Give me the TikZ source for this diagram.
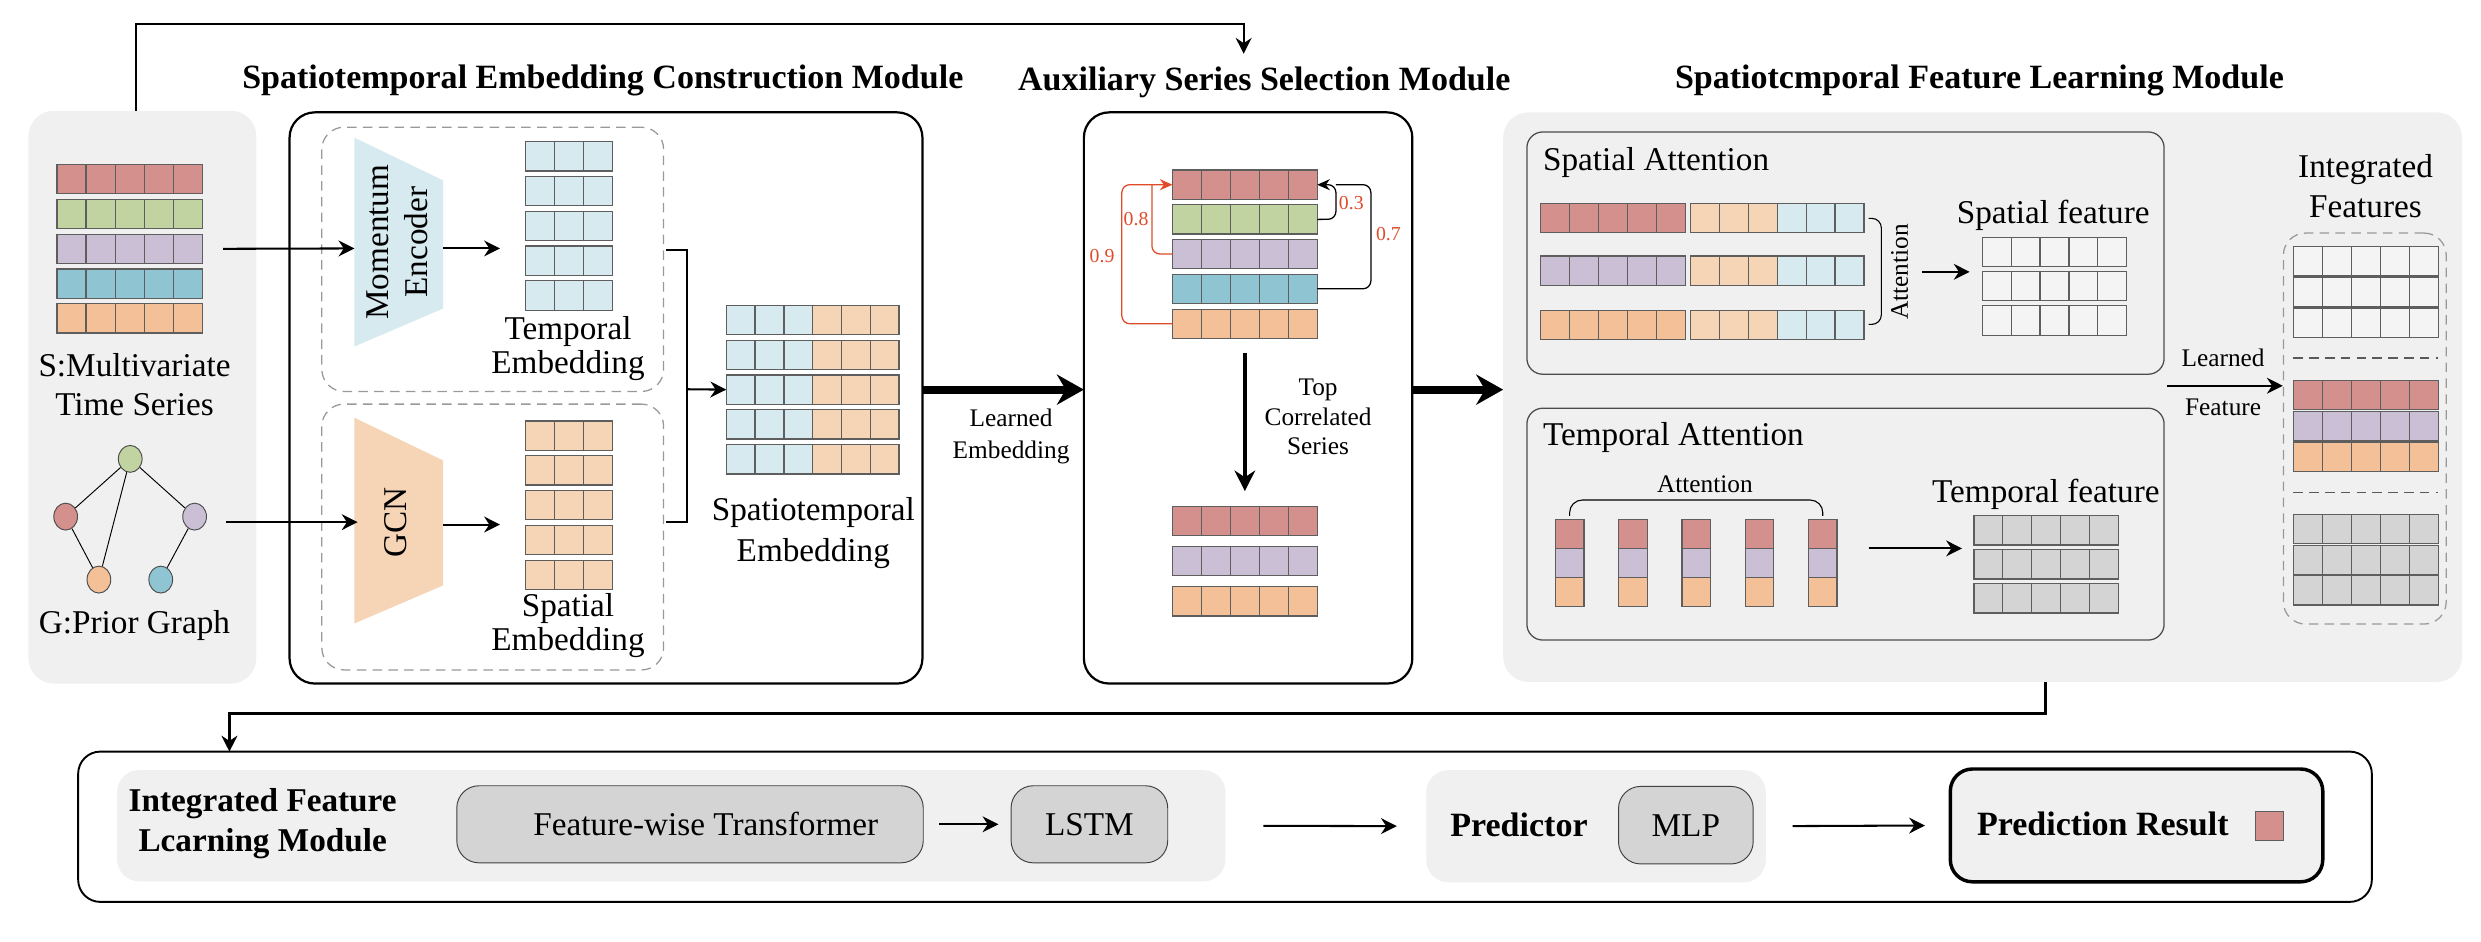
\documentclass[tikz,border=0pt]{standalone}
\usepackage{fontspec}
\setmainfont{Liberation Serif}
\usetikzlibrary{positioning,shapes.geometric,arrows.meta}

\definecolor{sred}{HTML}{D3908C}
\definecolor{sgreen}{HTML}{C1D3A1}
\definecolor{spurple}{HTML}{CBBFD6}
\definecolor{steal}{HTML}{8FC5D2}
\definecolor{sorange}{HTML}{F3C097}
\definecolor{lblue}{HTML}{D7EAF0}
\definecolor{lorange}{HTML}{F6D5B7}
\definecolor{panelgray}{HTML}{EFF0EF}
\definecolor{boxgray}{HTML}{D4D4D4}
\definecolor{fwhite}{HTML}{F4F4F4}
\definecolor{numred}{HTML}{E04B2A}
\definecolor{cellgray}{HTML}{5E5E5E}

\tikzset{
  cell/.style={draw=cellgray, line width=0.8pt, inner sep=0pt, outer sep=0pt, minimum height=18.5pt, anchor=north west},
  cellline/.style={draw=cellgray, line width=0.8pt},
  panel/.style={fill=panelgray, rounded corners=16pt, anchor=north west, inner sep=0pt, outer sep=0pt},
  module/.style={draw=black, line width=1.4pt, fill=white, rounded corners=16pt, anchor=north west, inner sep=0pt, outer sep=0pt},
  dashbox/.style={draw=gray!80, dash pattern=on 6pt off 4pt, line width=0.8pt, rounded corners=14pt, anchor=north west, inner sep=0pt},
  attbox/.style={draw=gray!60!black, line width=0.8pt, rounded corners=10pt, anchor=north west, inner sep=0pt, outer sep=0pt},
  gbox/.style={fill=boxgray, draw=gray!50!black, line width=0.6pt, rounded corners=14pt, anchor=north west, inner sep=0pt, outer sep=0pt, font=\fontsize{21}{25}\selectfont},
  gnode/.style={ellipse, draw=gray!60!black, line width=0.6pt, minimum width=15pt, minimum height=17pt, inner sep=0pt},
  gedge/.style={draw=black, line width=0.6pt},
  lbl/.style={font=\fontsize{21}{25}\selectfont, align=center, inner sep=0pt},
  lbltight/.style={font=\fontsize{21}{21.5}\selectfont, align=center, inner sep=0pt},
  ttl/.style={font=\bfseries\fontsize{21.5}{25}\selectfont, align=center, inner sep=0pt},
  small/.style={font=\fontsize{16}{19}\selectfont, align=center, inner sep=0pt},
  num/.style={font=\fontsize{12.5}{14}\selectfont, text=numred, inner sep=0pt},
  arr/.style={-{Stealth[length=10pt,width=10pt]}, line width=1.3pt},
  midarr/.style={-{Stealth[length=13pt,width=13pt]}, line width=2.6pt},
  bigarr/.style={-{Stealth[length=17pt,width=19pt]}, line width=5pt},
  link/.style={line width=0.8pt, rounded corners=5pt}
}

% one row of cells: name, x, y (top left), cells, cell width, fill
\newcommand{\cellrow}[6]{%
  \node[cell, fill=#6, minimum width=#4*#5pt] (#1) at (#2,#3) {};
  \pgfmathtruncatemacro{\lastk}{#4-1}%
  \foreach \k in {1,...,\lastk}{\draw[cellline] ([xshift=\k*#5pt]#1.north west) -- ([xshift=\k*#5pt]#1.south west);}%
}

\begin{document}
\begin{tikzpicture}[x=1pt, y=-1pt]
\useasboundingbox (0,0) rectangle (1568,595);

% titles
\node[ttl] (t1) at (381,51) {Spatiotemporal Embedding Construction Module};
\node[ttl] (t2) at (799,52) {Auxiliary Series Selection Module};
\node[ttl] (t3) at (1251,51) {Spatiotcmporal Feature Learning Module};

% input panel
\node[panel, minimum width=144pt, minimum height=362pt] (lp) at (18,70) {};
\foreach \i/\y/\c in {1/104/sred,2/126/sgreen,3/148/spurple,4/170/steal,5/192/sorange}{
  \cellrow{s\i}{36}{\y}{5}{18.4}{\c}
}
\node[lbl] (slbl) at (85,243) {S:Multivariate\\Time Series};
\node[gnode, fill=sgreen] (g1) at (82.3,290) {};
\node[gnode, fill=sred] (g2) at (41.5,326.5) {};
\node[gnode, fill=spurple] (g3) at (123,326.5) {};
\node[gnode, fill=sorange] (g4) at (62.5,366.3) {};
\node[gnode, fill=steal] (g5) at (101.6,366.3) {};
\draw[gedge] (g1) -- (g2);
\draw[gedge] (g1) -- (g3);
\draw[gedge] (g1) -- (g4);
\draw[gedge] (g2) -- (g4);
\draw[gedge] (g3) -- (g5);
\node[lbl] (glbl) at (85,395) {G:Prior Graph};

% embedding construction
\node[module, minimum width=400pt, minimum height=361pt] (emb) at (183,71) {};
\node[dashbox, minimum width=216pt, minimum height=167pt] (tbox) at (203,80) {};
\node[dashbox, minimum width=216pt, minimum height=168pt] (sbox) at (203,255) {};
\fill[lblue] (224,87) -- (280,114) -- (280,195) -- (224,219) -- cycle;
\fill[lorange] (224,264) -- (280,291) -- (280,370) -- (224,394) -- cycle;
\node[lbl, rotate=90] (enc) at (251,153) {Momentum\\Encoder};
\node[lbl, rotate=90] (gcn) at (250,330) {GCN};
\coordinate (encin) at (224,157);
\coordinate (encout) at (280,157);
\coordinate (gcnin) at (226,330);
\coordinate (gcnout) at (280,331.5);
\draw[arr] ([xshift=13pt]s3.east) -- (encin);
\draw[arr] (143,330) -- (gcnin);
\foreach \i/\y in {1/89.5,2/111.5,3/133.5,4/155.5,5/177.5}{
  \cellrow{te\i}{332}{\y}{3}{18.3}{lblue}
}
\foreach \i/\y in {1/266,2/288,3/310,4/332,5/354}{
  \cellrow{se\i}{332}{\y}{3}{18.3}{lorange}
}
\draw[arr] (encout) -- (316,157);
\draw[arr] (gcnout) -- (316,331.5);
\node[lbltight] (telbl) at (359,220) {Temporal\\Embedding};
\node[lbltight] (selbl) at (359,395.5) {Spatial\\Embedding};
\draw[line width=1.2pt] (421,158) -- (434,158) -- (434,330) -- (421,330);
\foreach \i/\y in {1/193,2/215,3/237,4/259,5/281}{
  \cellrow{sta\i}{459}{\y}{3}{18.2}{lblue}
  \cellrow{stb\i}{513.6}{\y}{3}{18.2}{lorange}
}
\draw[arr] (434,246) -- (sta3.west);
\node[lbl, font=\fontsize{21}{26}\selectfont] (stlbl) at (514,337) {Spatiotemporal\\Embedding};

% auxiliary series selection
\node[module, minimum width=207.6pt, minimum height=361pt] (aux) at (685,71) {};
\draw[bigarr] (emb.east |- sta3.east) -- (aux.west |- sta3.east);
\node[small, font=\fontsize{16}{20}\selectfont] (lelbl) at (639,276) {Learned\\Embedding};
\foreach \i/\y/\c in {1/107.5/sred,2/129.4/sgreen,3/151.3/spurple,4/173.3/steal,5/195.4/sorange}{
  \cellrow{a\i}{741}{\y}{5}{18.3}{\c}
}
\draw[link, draw=numred, -{Stealth[length=8pt,width=7pt]}] (a5.west) -- (709,204.6) -- (709,116.7) -- (a1.west);
\draw[link, draw=numred] (a3.west) -- (728,160.5) -- (728,116.7);
\draw[link, -{Stealth[length=8pt,width=7pt]}] (a2.east) -- (844.3,138.6) -- (844.3,116.7) -- (a1.east);
\draw[link] (a4.east) -- (866.4,182.5) -- (866.4,116.7) -- (844.3,116.7);
\node[num] (n9) at (696.5,162) {0.9};
\node[num] (n8) at (718,138.6) {0.8};
\node[num] (n3) at (854,128.5) {0.3};
\node[num] (n7) at (877.5,148) {0.7};
\foreach \i/\y/\c in {1/320/sred,2/345.4/spurple,3/370.8/sorange}{
  \cellrow{b\i}{741}{\y}{5}{18.3}{\c}
}
\draw[midarr, shorten <=9pt, shorten >=9.6pt] (a5.south) -- (b1.north);
\node[small, font=\fontsize{16}{18.5}\selectfont] (toplbl) at (833,263.5) {Top\\Correlated\\Series};

% feature learning
\node[panel, minimum width=606pt, minimum height=360pt] (fl) at (950,71) {};
\draw[bigarr] (aux.east |- sta3.east) -- (fl.west |- sta3.east);
\node[attbox, minimum width=402.7pt, minimum height=153.1pt] (satt) at (965,83.4) {};
\node[attbox, minimum width=402.7pt, minimum height=146.5pt] (tatt) at (965,258) {};
\node[lbl, anchor=west] (salbl) at (975,102.4) {Spatial Attention};
\node[lbl, anchor=west] (talbl) at (975,276.6) {Temporal Attention};
\foreach \i/\y/\c in {1/128.6/sred,2/161.8/spurple,3/196/sorange}{
  \cellrow{sa\i}{973.8}{\y}{5}{18.3}{\c}
  \cellrow{sb\i}{1068.5}{\y}{3}{18.25}{lorange}
  \cellrow{sc\i}{1123.25}{\y}{3}{18.25}{lblue}
}
\draw[line width=0.7pt, rounded corners=6pt] (1181,138) -- (1189,138) -- (1189,205) -- (1181,205);
\node[small, rotate=90] (sattn) at (1200.6,171.8) {Attention};
\node[lbl] (sflbl) at (1297.6,136.4) {Spatial feature};
\foreach \i/\y in {1/150,2/171.5,3/193.3}{
  \cellrow{sf\i}{1252.8}{\y}{5}{18.25}{fwhite}
}
\draw[arr, shorten >=8pt] (1215,171.8) -- (sf2.west |- 0,171.8);

\node[small] (tattn) at (1077.5,306) {Attention};
\draw[line width=0.7pt, rounded corners=8pt] (992,326) -- (992,316) -- (1152,316) -- (1152,326);
\foreach \j/\x in {1/983,2/1023,3/1063,4/1103,5/1143}{
  \node[cell, fill=sred, minimum width=18pt, minimum height=18.3pt] (tca\j) at (\x,328.5) {};
  \node[cell, fill=spurple, minimum width=18pt, minimum height=18.3pt] (tcb\j) at (\x,346.8) {};
  \node[cell, fill=sorange, minimum width=18pt, minimum height=18.3pt] (tcc\j) at (\x,365.2) {};
}
\node[lbl] (tflbl) at (1293,312.5) {Temporal feature};
\foreach \i/\y in {1/326,2/347.4,3/368.9}{
  \cellrow{tf\i}{1247.5}{\y}{5}{18.3}{boxgray}
}
\draw[arr] (1181,346.6) -- (1240,346.6);

% integrated features
\node[lbl] (iglbl) at (1495,117.5) {Integrated\\Features};
\node[dashbox, minimum width=102.9pt, minimum height=247.1pt] (ig) at (1442.7,146.9) {};
\foreach \i/\y/\c in {1/155.8/fwhite,2/175/fwhite,3/194.7/fwhite,4/240.4/sred,5/260/spurple,6/279.4/sorange,7/325/boxgray,8/344.7/boxgray,9/363.9/boxgray}{
  \cellrow{i\i}{1449.4}{\y}{5}{18.3}{\c}
}
\draw[gray!70!black, line width=0.8pt, dash pattern=on 6pt off 4pt] (1449.4,226.3) -- (1541,226.3);
\draw[gray!70!black, line width=0.8pt, dash pattern=on 6pt off 4pt] (1449.4,311.2) -- (1541,311.2);
\draw[arr] (1369.3,243.8) -- (ig.west |- 0,243.8);
\node[small] (lflbl1) at (1405,226) {Learned};
\node[small] (lflbl2) at (1405,257.5) {Feature};

% top and bottom connectors
\coordinate (auxtop) at (786,34);
\draw[arr, line width=1.2pt] ([xshift=-4pt]lp.north) -- ++(0,-55) -| (auxtop);
\coordinate (botin) at (145,475);
\draw[arr, line width=2pt] ([xshift=40pt]fl.south) -- ++(0,20) -| (botin);

% bottom pipeline
\node[module, line width=1.2pt, rounded corners=14pt, minimum width=1449.6pt, minimum height=95pt] (bot) at (49.4,475) {};
\node[panel, rounded corners=14pt, minimum width=700.5pt, minimum height=70.3pt] (sec1) at (74,486.7) {};
\node[panel, rounded corners=14pt, minimum width=214.6pt, minimum height=70.9pt] (sec2) at (901.4,486.7) {};
\node[ttl, font=\bfseries\fontsize{21}{25.5}\selectfont] (iflbl) at (166,520.5) {Integrated Feature\\Lcarning Module};
\node[gbox, minimum width=294.8pt, minimum height=48.7pt] (fwt) at (288.7,496.6) {\hspace{20pt}Feature-wise Transformer};
\node[gbox, minimum width=99pt, minimum height=48.7pt] (lstm) at (639,496.6) {LSTM};
\draw[arr, shorten <=10pt, shorten >=8pt] (fwt.east) -- (lstm.west);
\node[ttl] (predlbl) at (960,521) {Predictor};
\node[gbox, minimum width=85.1pt, minimum height=49pt] (mlp) at (1022.9,497) {MLP};
\node[panel, draw=black, line width=2.2pt, rounded corners=14pt, minimum width=235.4pt, minimum height=71.3pt] (pr) at (1232.6,486) {};
\node[ttl] (prlbl) at (1329,521) {Prediction Result};
\node[cell, fill=sred, minimum width=17.4pt, minimum height=18pt] (prcell) at (1425.6,513) {};
\draw[arr, shorten <=24pt, shorten >=18.6pt] (sec1.east) -- (sec2.west);
\draw[arr, shorten <=17pt, shorten >=16pt] (sec2.east) -- (pr.west);
\end{tikzpicture}
\end{document}
